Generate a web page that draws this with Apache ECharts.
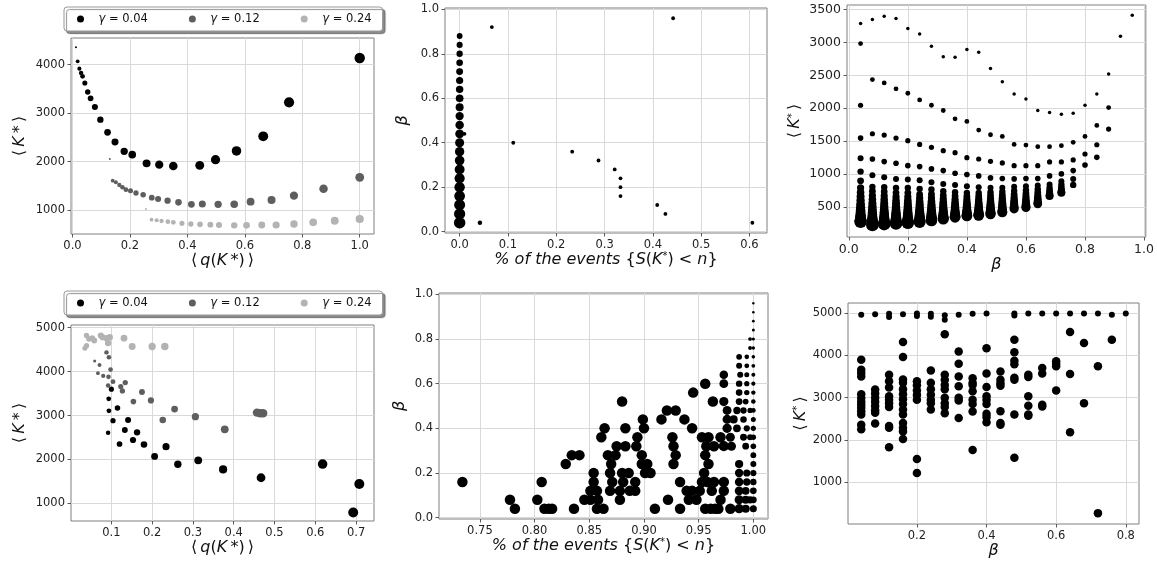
<!DOCTYPE html>
<html><head><meta charset="utf-8">
<script src="https://cdn.jsdelivr.net/npm/echarts@6/dist/echarts.min.js"></script>
<style>html,body{margin:0;padding:0;background:#fff}#c{width:1157px;height:562px}</style>
</head><body><div id="c"></div>
<script>
// ---------- DATA ----------
const gammaNames = ['γ = 0.04', 'γ = 0.12', 'γ = 0.24'];
const gammaColors = ['#000000', '#5e5e5e', '#b3b3b3'];

// Panel A (top-left): <q(K*)> vs <K*>
const a04_q = [0.012,0.018,0.024,0.030,0.035,0.043,0.053,0.063,0.078,0.097,0.122,0.148,0.180,0.208,0.258,0.302,0.351,0.443,0.498,0.571,0.664,0.754,1.0];
const a04_K = [4358,4069,3917,3828,3759,3622,3436,3305,3126,2865,2603,2404,2211,2142,1963,1936,1908,1922,2039,2218,2521,3223,4138];
const a12_q = [0.130,0.140,0.151,0.163,0.174,0.186,0.202,0.221,0.246,0.276,0.298,0.331,0.369,0.414,0.452,0.507,0.563,0.620,0.693,0.771,0.874,1.0];
const a12_K = [2053,1606,1571,1516,1468,1420,1399,1351,1317,1255,1227,1193,1158,1117,1124,1117,1117,1172,1207,1296,1440,1675];
const a24_q = [0.256,0.275,0.293,0.310,0.332,0.351,0.381,0.412,0.444,0.480,0.510,0.563,0.606,0.659,0.709,0.771,0.838,0.913,1.0];
const a24_K = [1021,801,787,773,760,746,725,711,704,698,691,684,684,691,691,711,746,780,815];
const aTicksX = [0.0,0.2,0.4,0.6,0.8,1.0];
const aTicksY = [1000,2000,3000,4000];

// Panel B (top-middle): % of events vs beta
const bColPct  = [0,0,0,0,0,0,0,0,0,0,0,0,0,0,0,0,0,0,0,0,0,0];
const bColBeta = [0.04,0.08,0.12,0.16,0.20,0.24,0.28,0.32,0.36,0.40,0.44,0.48,0.52,0.56,0.60,0.64,0.68,0.72,0.76,0.80,0.84,0.88];
const bPct  = [0.010,0.042,0.0667,0.111,0.233,0.2875,0.321,0.333,0.333,0.333,0.409,0.426,0.442,0.606];
const bBeta = [0.44,0.04,0.92,0.40,0.36,0.32,0.28,0.24,0.20,0.16,0.12,0.08,0.96,0.04];
const bTicksX = [0.0,0.1,0.2,0.3,0.4,0.5,0.6];
const bTicksY = [0.0,0.2,0.4,0.6,0.8,1.0];

// Panel C (top-right): beta vs <K*>, one column of values per beta
const cBeta = [0.04,0.08,0.12,0.16,0.20,0.24,0.28,0.32,0.36,0.40,0.44,0.48,0.52,0.56,0.60,0.64,0.68,0.72,0.76,0.80,0.84,0.88,0.92,0.96];
const cK = [
 [3287,2983,2045,1545,1237,1035,894,788,720,655,595,540,490,445,405,370,340,315,295,280,270],
 [3348,2436,1611,1227,980,803,737,670,610,555,505,460,418,380,345,315,290,265,245,230,220],
 [3399,2385,1591,1187,949,798,730,665,605,550,500,455,415,378,345,318,292,270,252,240,235],
 [3363,2294,1545,1162,924,788,712,650,595,545,498,455,418,385,352,325,300,280,262,250,245],
 [3211,2227,1505,1126,914,788,712,652,598,548,503,462,425,392,360,332,308,288,270,258,255],
 [3130,2126,1449,1111,904,773,687,632,582,537,495,457,423,392,363,337,313,293,278,270],
 [2943,2045,1404,1076,874,763,692,635,585,540,500,463,430,400,372,347,325,306,290],
 [2781,1965,1353,1050,848,737,672,617,568,525,486,452,420,392,366,343,325,315],
 [2776,1838,1323,1010,833,722,662,610,565,524,488,455,425,398,374,355,340],
 [2892,1798,1247,990,813,712,657,608,565,527,492,460,432,406,384,368,360],
 [2852,1667,1227,970,798,712,660,613,572,535,500,468,440,414,392,375,370],
 [2603,1596,1192,939,788,722,668,620,578,540,506,475,447,422,402,390],
 [2404,1571,1167,929,788,728,675,628,586,549,515,484,456,432,415],
 [2217,1449,1126,924,803,742,688,640,597,558,523,492,468],
 [2141,1439,1126,929,813,752,698,650,607,570,537,508,490],
 [1965,1414,1126,929,823,766,714,668,628,593,563,545],
 [1934,1414,1182,970,838,787,742,703,672,662],
 [1909,1429,1182,1000,889,834,787,748,722,712],
 [1924,1480,1212,1050,924,833],
 [2045,1571,1303,1136],
 [2217,1737,1444,1252],
 [2520,2010,1682],
 [3096],
 [3414]
];
const cTicksX = [0.0,0.2,0.4,0.6,0.8,1.0];
const cTicksY = [500,1000,1500,2000,2500,3000,3500];

// Panel D (bottom-left)
const d04_q = [0.100,0.0935,0.094,0.115,0.104,0.141,0.133,0.163,0.092,0.120,0.153,0.180,0.206,0.234,0.263,0.313,0.374,0.467,0.618,0.693,0.708];
const d04_K = [3600,3380,3108,3172,2883,2900,2670,2617,2610,2352,2443,2340,2070,2291,1892,1980,1774,1584,1896,794,1440];
const d12_q = [0.059,0.067,0.071,0.080,0.088,0.092,0.094,0.093,0.098,0.104,0.123,0.134,0.127,0.154,0.175,0.197,0.226,0.255,0.306,0.378,0.457,0.465,0.472];
const d12_K = [4240,3963,4150,3902,4437,3682,4327,3880,4045,3770,3660,3750,3560,3317,3535,3343,2898,3146,2975,2686,3066,3050,3050];
const d24_q = [0.035,0.039,0.039,0.045,0.053,0.058,0.074,0.078,0.088,0.092,0.096,0.131,0.151,0.200,0.231];
const d24_K = [4530,4590,4820,4740,4760,4707,4821,4783,4760,4650,4783,4760,4571,4571,4571];
const dTicksX = [0.0,0.1,0.2,0.3,0.4,0.5,0.6,0.7];
const dTicksY = [1000,2000,3000,4000,5000];

// Panel E (bottom-middle): % of events per beta level
const eBeta = [0.04,0.08,0.12,0.16,0.20,0.24,0.28,0.32,0.36,0.40,0.44,0.48,0.52,0.56,0.60,0.64,0.68,0.72,0.76,0.80,0.84,0.88,0.92,0.96];
const ePct = [
 [0.782,0.809,0.813,0.816,0.836,0.857,0.863,0.910,0.933,0.956,0.961,0.965,0.968,0.979,0.987,0.993,1.0],
 [0.7775,0.8025,0.8455,0.851,0.858,0.878,0.922,0.941,0.948,0.970,0.987,0.993,0.997,1.0],
 [0.851,0.857,0.869,0.878,0.887,0.892,0.939,0.944,0.951,0.962,0.973,0.987,0.993,1.0],
 [0.734,0.8065,0.854,0.871,0.881,0.892,0.933,0.953,0.958,0.964,0.973,0.987,0.994,1.0],
 [0.854,0.869,0.880,0.886,0.901,0.906,0.955,0.987,0.994,1.0],
 [0.8285,0.870,0.898,0.903,0.927,0.959,0.987,1.0],
 [0.834,0.841,0.867,0.874,0.898,0.929,0.956,1.0],
 [0.875,0.883,0.893,0.927,0.957,0.964,0.973,0.980,0.993,1.0],
 [0.861,0.894,0.926,0.953,0.959,0.970,0.979,0.991,0.997,1.0],
 [0.864,0.883,0.900,0.944,0.976,0.985,0.994,1.0],
 [0.899,0.916,0.937,0.976,0.982,0.991,1.0],
 [0.921,0.929,0.976,0.985,0.991,0.997,1.0],
 [0.880,0.963,0.973,0.987,0.993,1.0],
 [0.945,0.987,0.994,1.0],
 [0.956,0.973,0.987,0.994,1.0],
 [0.973,0.988,0.994,1.0],
 [0.987,0.994,1.0],
 [0.987,0.994,1.0],
 [0.997,1.0],
 [0.997,1.0],
 [1.0],[1.0],[1.0],[1.0]
];
const eTicksX = [0.75,0.80,0.85,0.90,0.95,1.00];
const eTicksY = [0.0,0.2,0.4,0.6,0.8,1.0];

// Panel F (bottom-right): beta vs <K*>
const fBeta = [0.04,0.08,0.12,0.16,0.20,0.24,0.28,0.32,0.36,0.40,0.44,0.48,0.52,0.56,0.60,0.64,0.68,0.72,0.76,0.80];
const fK = [
 [4961,3898,3660,3580,3500,3080,2990,2900,2830,2760,2680,2600,2360,2250],
 [4969,3190,3100,3000,2900,2800,2700,2640,2390],
 [4984,4906,3540,3390,3240,3030,2950,2870,2780,2330,2290,1830],
 [4970,4315,3960,3430,3350,3200,3080,2960,2850,2720,2600,2400,2290,2200,2020],
 [4990,4930,3390,3290,3170,3060,2950,1550,1220],
 [4980,4910,3640,3350,3200,3070,2950,2870,2720],
 [4950,4840,4500,3540,3420,3300,3200,3000,2870,2780,2630],
 [4960,4090,3800,3500,3270,3000,2930,2520],
 [4980,3460,3350,3300,3150,2950,2850,2670,1760],
 [4990,4170,3570,3250,3030,2950,2850,2620,2540,2420],
 [3620,3420,3340,3280,2680,2400,2360],
 [4990,4940,4370,4070,3870,3790,3470,3420,2600,1580],
 [4990,3540,3490,3030,2810,2600,2570],
 [4990,3700,3570,2830,2790],
 [4990,3860,3800,3740,3170],
 [4990,4550,3560,2180],
 [4990,4290,2870],
 [4990,3740,270],
 [4960,4370],
 [4990]
];
const fTicksX = [0.2,0.4,0.6,0.8];
const fTicksY = [1000,2000,3000,4000,5000];

// ---------- STYLE / LAYOUT ----------
const FONT = 'DejaVu Sans';
const TXT = '#111';
function rich(fs) {
  return {
    i:   {fontStyle:'italic', fontSize:fs, fontFamily:FONT, color:TXT},
    sup: {fontSize:Math.round(fs*0.65), fontFamily:FONT, color:TXT, verticalAlign:'top'}
  };
}
const grids = [
  {left:71,  top:38,  width:303, height:196},
  {left:445, top:8,   width:322, height:225},
  {left:847, top:5,   width:299, height:232},
  {left:71,  top:325, width:303, height:196},
  {left:439, top:293, width:329, height:226},
  {left:848, top:303, width:291, height:221}
].map(g => Object.assign({show:true, borderColor:'#7f7f7f', borderWidth:1, backgroundColor:'#fff'}, g));

function axis(gi, min, max, ticks, fmt, name, gap, fs, nfs) {
  nfs = nfs || 15;
  return {
    type:'value', gridIndex:gi, min:min, max:max,
    axisLine:{show:false, onZero:false},
    axisTick:{show:true, inside:false, length:3.5, customValues:ticks, lineStyle:{color:'#333', width:0.8}},
    axisLabel:{show:true, customValues:ticks, formatter:fmt, margin:6, fontSize:fs, color:'#222', fontFamily:FONT},
    splitLine:{show:true, lineStyle:{color:'#d9d9d9', width:1}},
    name:name, nameLocation:'middle', nameGap:gap,
    nameTextStyle:{fontSize:nfs, fontFamily:FONT, color:TXT, rich:rich(nfs)}
  };
}
const f1 = v => v.toFixed(1), f2 = v => v.toFixed(2), f0 = v => String(Math.round(v));
const nameQ = '⟨\u2009{i|q}({i|K}\u2009*)\u2009⟩';
const nameK = '⟨\u2009{i|K}\u2009*\u2009⟩';
const nameKs = '⟨\u2009{i|K}{sup|*}\u2009⟩';
const nameB = '{i|β}';
const nameP = '{i|% of the events }{{i|S}({i|K}{sup|*}) < {i|n}}';

const xAxes = [
  axis(0, -0.0052, 1.0497, aTicksX, f1, nameQ, 17, 11.5, 16),
  axis(1, -0.0303, 0.6363, bTicksX, f1, nameP, 17, 11.5, 16),
  axis(2, -0.006, 1.006, cTicksX, f1, nameB, 18, 12.5, 16),
  axis(3, 0.001, 0.744, dTicksX, f1, nameQ, 17, 11.5, 16),
  axis(4, 0.7126, 1.0134, eTicksX, f2, nameP, 17, 11.5, 16),
  axis(5, 0.002, 0.838, fTicksX, f1, nameB, 19, 11.5, 16)
];
const yAxes = [
  axis(0, 505, 4550, aTicksY, f0, nameK, 43, 11.5, 16),
  axis(1, -0.006, 1.006, bTicksY, f1, nameB, 34, 11.5, 16),
  axis(2, 40, 3570, cTicksY, f0, nameKs, 44, 12.5, 16),
  axis(3, 600, 5060, dTicksY, f0, nameK, 43, 11.5, 16),
  axis(4, -0.006, 1.006, eTicksY, f1, nameB, 31, 11.5, 16),
  axis(5, 13, 5237, fTicksY, f0, nameKs, 36, 11.5, 16)
];

function zip(xs, ys) { return xs.map((x, i) => [x, ys[i]]); }
function seqSize(p, n, hi) { const i = p.dataIndex; return i === 0 ? 2 : 3.8 + (i - 1) * (hi - 3.8) / (n - 2); }
function sqrtSize(xs, lo, hi) {
  const mn = Math.min(...xs), mx = Math.max(...xs);
  return v => lo + (hi - lo) * Math.sqrt((v[0] - mn) / (mx - mn));
}
function sc(name, gi, data, color, size) {
  return {type:'scatter', name:name, xAxisIndex:gi, yAxisIndex:gi, data:data, symbol:'circle',
          symbolSize:size, itemStyle:{color:color, opacity:1}, emphasis:{disabled:true}, clip:true};
}

const series = [];
// A
series.push(sc(gammaNames[0], 0, zip(a04_q, a04_K), gammaColors[0], (v,p) => seqSize(p, a04_q.length, 10.5)));
series.push(sc(gammaNames[1], 0, zip(a12_q, a12_K), gammaColors[1], (v,p) => seqSize(p, a12_q.length, 8.8)));
series.push(sc(gammaNames[2], 0, zip(a24_q, a24_K), gammaColors[2], (v,p) => seqSize(p, a24_q.length, 8.2)));
// B
series.push(sc('B column', 1, zip(bColPct, bColBeta), '#000', v => 11.8 - 6.8 * v[1]));
series.push(sc('B points', 1, zip(bPct, bBeta), '#000', v => (v[1] < 0.06 && v[0] < 0.1) ? 4.5 : 3.8));
// C
const cData = [];
cBeta.forEach((b, j) => cK[j].forEach((k, idx) => cData.push([b, k, idx])));
series.push(sc('C', 2, cData, '#000', v => v[2] === 0 ? 3.5 : 4.4 + v[2] * 0.4));
// D
series.push(sc(gammaNames[0], 3, zip(d04_q, d04_K), gammaColors[0], sqrtSize(d04_q, 4.5, 10)));
series.push(sc(gammaNames[1], 3, zip(d12_q, d12_K), gammaColors[1], sqrtSize(d12_q, 3, 8.5)));
series.push(sc(gammaNames[2], 3, zip(d24_q, d24_K), gammaColors[2], sqrtSize(d24_q, 5, 7.5)));
// E
const eData = [];
eBeta.forEach((b, j) => ePct[j].forEach(x => eData.push([x, b])));
series.push(sc('E', 4, eData, '#000', v => Math.min(10.5, 2.2 + (1 - v[1]) * 5 + (1 - v[0]) * 170)));
// F
const fData = [];
fBeta.forEach((b, j) => fK[j].forEach(k => fData.push([b, k])));
series.push(sc('F', 5, fData, '#000', v => v[1] > 4800 ? 6 : 8.5));

function legend(top) {
  return {
    data: gammaNames, left:64, top:top, orient:'horizontal',
    icon:'circle', itemWidth:7, itemHeight:7, itemGap:41,
    padding:[6,11,6,13], backgroundColor:'#fff', borderColor:'#999', borderWidth:1, borderRadius:3,
    shadowBlur:1, shadowColor:'rgba(0,0,0,0.45)', shadowOffsetX:2.5, shadowOffsetY:2.5,
    selectedMode:false,
    formatter: n => n.replace('γ', '{g|γ}'),
    textStyle:{fontSize:11.5, fontFamily:FONT, color:TXT,
      rich:{g:{fontStyle:'italic', fontSize:11.5, fontFamily:FONT, color:TXT, padding:[0,0,0,9.5]}}}
  };
}

const chart = echarts.init(document.getElementById('c'), null, {renderer:'canvas'});
chart.setOption({
  animation:false,
  backgroundColor:'#fff',
  textStyle:{fontFamily:FONT},
  grid:grids, xAxis:xAxes, yAxis:yAxes,
  legend:[legend(7), legend(291)],
  series:series
});
</script></body></html>
